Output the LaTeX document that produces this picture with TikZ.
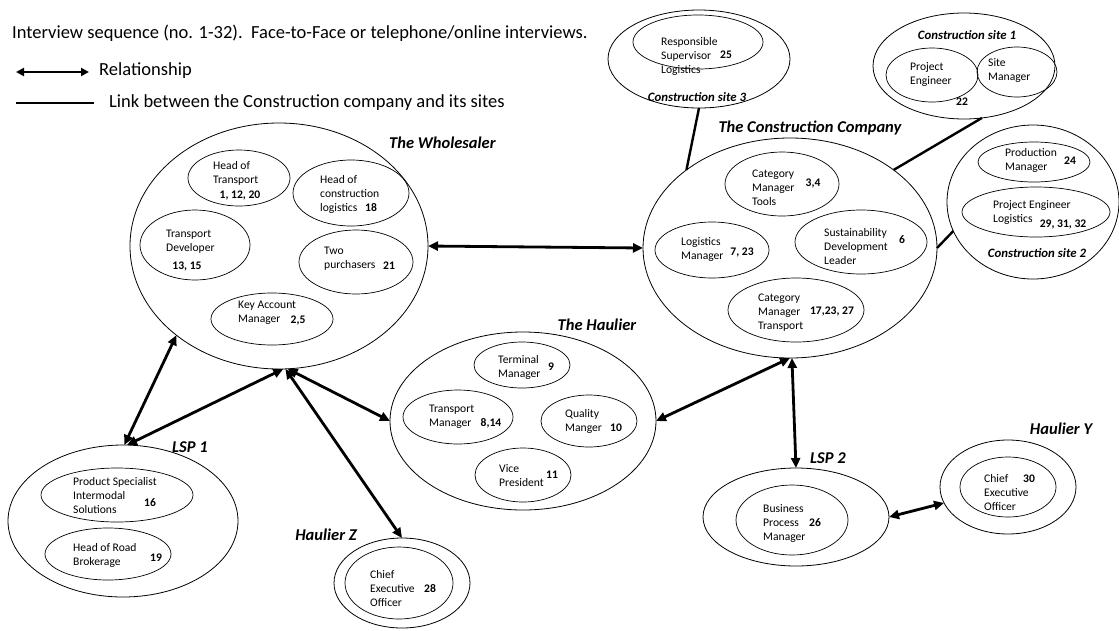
\documentclass[tikz,border=0pt]{standalone}
\usepackage{fontspec}
\setmainfont{Carlito}
\usetikzlibrary{shapes.geometric,arrows.meta}

\tikzset{
  orgbox/.style={draw, ellipse, line width=0.8pt, inner sep=0pt, outer sep=0pt},
  rolebox/.style={draw, ellipse, line width=0.7pt, inner sep=0pt, outer sep=0pt},
  roletext/.style={font=\fontsize{11.6}{14}\selectfont, align=left, anchor=west, inner sep=0pt},
  rolenum/.style={font=\fontsize{11.6}{14}\selectfont\bfseries, inner sep=0pt},
  orgtitle/.style={font=\fontsize{16.5}{19}\selectfont\bfseries\itshape, inner sep=0pt},
  sitetitle/.style={font=\fontsize{12.8}{15}\selectfont\bfseries\itshape, inner sep=0pt},
  legendtext/.style={font=\fontsize{18.5}{21}\selectfont, anchor=west, inner sep=0pt},
  relation/.style={line width=2.8pt, {Triangle[length=10pt,width=9pt]}-{Triangle[length=10pt,width=9pt]}},
  sitelink/.style={line width=2.4pt},
}

\begin{document}
\begin{tikzpicture}[x=1pt,y=-1pt]
\useasboundingbox (0,0) rectangle (1119,630);

% ---------- legend ----------
\node[legendtext] (hdr) at (12,33) {Interview sequence (no. 1-32).\ \ Face-to-Face or telephone/online interviews.};
\coordinate (relA) at (16,72);
\coordinate (relB) at (89,72);
\draw[line width=2.2pt, {Triangle[length=8pt,width=8pt]}-{Triangle[length=8pt,width=8pt]}] (relA) -- (relB);
\node[legendtext] (relT) at (99,71) {Relationship};
\coordinate (lnkA) at (16,103);
\coordinate (lnkB) at (94,103);
\draw[line width=1.8pt] (lnkA) -- (lnkB);
\node[legendtext] (lnkT) at (109,103) {Link between the Construction company and its sites};

% ---------- The Wholesaler ----------
\node[orgbox, minimum width=298pt, minimum height=246pt] (w) at (279,246) {};
\node[orgtitle, anchor=west] (wT) at (389,143) {The Wholesaler};
\node[rolebox, minimum width=102pt, minimum height=56pt] (ht) at (239,178) {};
\node[roletext] (htT) at (213,173.5) {Head of\\Transport};
\node[rolenum] (htN) at (240,195) {1, 12, 20};
\node[rolebox, minimum width=116pt, minimum height=66pt] (hc) at (351,193) {};
\node[roletext] (hcT) at (320,194) {Head of\\construction\\logistics};
\node[rolenum] (hcN) at (371,208) {18};
\node[rolebox, minimum width=110pt, minimum height=70pt] (td) at (195,245) {};
\node[roletext] (tdT) at (166,241.5) {Transport\\Developer};
\node[rolenum] (tdN) at (187,266) {13, 15};
\node[rolebox, minimum width=114pt, minimum height=64pt] (tp) at (356,262) {};
\node[roletext] (tpT) at (324,259) {Two\\purchasers};
\node[rolenum] (tpN) at (389,266) {21};
\node[rolebox, minimum width=122pt, minimum height=52pt] (ka) at (272,319) {};
\node[roletext] (kaT) at (238,312.5) {Key Account\\Manager};
\node[rolenum] (kaN) at (298,320) {2,5};

% ---------- The Construction Company ----------
\node[orgbox, minimum width=294pt, minimum height=220pt] (cc) at (790,248) {};
\node[orgtitle] (ccT) at (810,128) {The Construction Company};
\node[rolebox, minimum width=114pt, minimum height=64pt] (cmt) at (782,184) {};
\node[roletext] (cmtT) at (752,188) {Category\\Manager\\Tools};
\node[rolenum] (cmtN) at (813,183) {3,4};
\node[rolebox, minimum width=114pt, minimum height=56pt] (lm) at (712,250) {};
\node[roletext] (lmT) at (681,249) {Logistics\\Manager};
\node[rolenum] (lmN) at (742,252) {7, 23};
\node[rolebox, minimum width=132pt, minimum height=64pt] (sdl) at (861,242) {};
\node[roletext] (sdlT) at (824,247) {Sustainability\\Development\\Leader};
\node[rolenum] (sdlN) at (902,240) {6};
\node[rolebox, minimum width=136pt, minimum height=64pt] (cmtr) at (796,310) {};
\node[roletext] (cmtrT) at (758,313) {Category\\Manager\\Transport};
\node[rolenum] (cmtrN) at (832,311) {17,23, 27};

% ---------- Construction site 3 ----------
\node[orgbox, minimum width=182pt, minimum height=98pt] (s3) at (699,59) {};
\node[rolebox, minimum width=130pt, minimum height=54pt] (rsl) at (698,42) {};
\node[roletext] (rslT) at (661,56) {Responsible\\Supervisor\\Logistics};
\node[rolenum] (rslN) at (726,55) {25};
\node[sitetitle] (s3T) at (697,97) {Construction site 3};

% ---------- Construction site 1 ----------
\node[orgbox, minimum width=182pt, minimum height=106pt] (s1) at (964,66) {};
\node[sitetitle] (s1T) at (967,35) {Construction site 1};
\node[rolebox, minimum width=92pt, minimum height=54pt] (pe) at (932,75) {};
\node[roletext] (peT) at (910,75) {Project\\Engineer};
\node[rolebox, minimum width=80pt, minimum height=50pt] (sm) at (1017,72) {};
\node[roletext] (smT) at (988,70.5) {Site\\Manager};
\node[rolenum] (s1N) at (962,102) {22};

% ---------- Construction site 2 ----------
\node[orgbox, minimum width=172pt, minimum height=154pt] (s2) at (1033,202) {};
\node[rolebox, minimum width=112pt, minimum height=40pt] (pm) at (1034,162) {};
\node[roletext] (pmT) at (1005,160.5) {Production\\Manager};
\node[rolenum] (pmN) at (1070,161) {24};
\node[rolebox, minimum width=148pt, minimum height=50pt] (pel) at (1036,212) {};
\node[roletext] (pelT) at (993,212.5) {Project Engineer\\Logistics};
\node[rolenum] (pelN) at (1063,224) {29, 31, 32};
\node[sitetitle] (s2T) at (1037,253) {Construction site 2};

% ---------- The Haulier ----------
\node[orgbox, minimum width=266pt, minimum height=178pt] (h) at (523,421) {};
\node[orgtitle] (hT) at (597,325) {The Haulier};
\node[rolebox, minimum width=96pt, minimum height=46pt] (tm) at (522,365) {};
\node[roletext] (tmT) at (498,367) {Terminal\\Manager};
\node[rolenum] (tmN) at (551,367) {9};
\node[rolebox, minimum width=110pt, minimum height=54pt] (trm) at (458,417) {};
\node[roletext] (trmT) at (429,416.5) {Transport\\Manager};
\node[rolenum] (trmN) at (491,423) {8,14};
\node[rolebox, minimum width=96pt, minimum height=52pt] (qm) at (589,421) {};
\node[roletext] (qmT) at (565,421) {Quality\\Manger};
\node[rolenum] (qmN) at (616,428) {10};
\node[rolebox, minimum width=96pt, minimum height=54pt] (vp) at (523,475) {};
\node[roletext] (vpT) at (499,476) {Vice\\President};
\node[rolenum] (vpN) at (552,475) {11};

% ---------- LSP 1 ----------
\node[orgbox, minimum width=230pt, minimum height=152pt] (l1) at (123,521) {};
\node[orgtitle] (l1T) at (190,447) {LSP 1};
\node[rolebox, minimum width=152pt, minimum height=54pt] (ps) at (117,495) {};
\node[roletext] (psT) at (73,496) {Product Specialist\\Intermodal\\Solutions};
\node[rolenum] (psN) at (150,503) {16};
\node[rolebox, minimum width=126pt, minimum height=52pt] (hrb) at (108,554) {};
\node[roletext] (hrbT) at (73,555.5) {Head of Road\\Brokerage};
\node[rolenum] (hrbN) at (156,558) {19};

% ---------- Haulier Z ----------
\node[orgbox, minimum width=136pt, minimum height=90pt] (hz) at (402,583) {};
\node[orgtitle] (hzT) at (326,535) {Haulier Z};
\node[rolebox, minimum width=108pt, minimum height=72pt] (hzc) at (399,583) {};
\node[roletext] (hzcT) at (370,589) {Chief\\Executive\\Officer};
\node[rolenum] (hzcN) at (430,589) {28};

% ---------- LSP 2 ----------
\node[orgbox, minimum width=186pt, minimum height=98pt] (l2) at (796,517) {};
\node[orgtitle] (l2T) at (828,458) {LSP 2};
\node[rolebox, minimum width=112pt, minimum height=70pt] (bpm) at (792,520) {};
\node[roletext] (bpmT) at (763,523) {Business\\Process\\Manager};
\node[rolenum] (bpmN) at (815,523) {26};

% ---------- Haulier Y ----------
\node[orgbox, minimum width=136pt, minimum height=94pt] (hy) at (1008,487) {};
\node[orgtitle] (hyT) at (1061,429) {Haulier Y};
\node[rolebox, minimum width=96pt, minimum height=60pt] (hyc) at (1008,487) {};
\node[roletext] (hycT) at (984,492.5) {Chief\\Executive\\Officer};
\node[rolenum] (hycN) at (1029,479) {30};

% ---------- company -- site links ----------
\draw[sitelink] (s3.south) -- (cc.143);
\draw[sitelink] (s1.-71) -- (cc.37);
\draw[sitelink] (s2.200) -- (cc.east);

% ---------- relationships ----------
\draw[relation] (w.east) -- (cc.west);
\draw[relation] (w.221) -- (l1.89);
\draw[relation] (w.-88) -- (l1.87);
\draw[relation] (w.-86) -- (h.west);
\draw[relation] (w.-87) -- (hz.north);
\draw[relation] (cc.-90) -- (h.east);
\draw[relation] (cc.-89) -- (l2.north);
\draw[relation] (l2.east) -- (hy.194);

\end{tikzpicture}
\end{document}
